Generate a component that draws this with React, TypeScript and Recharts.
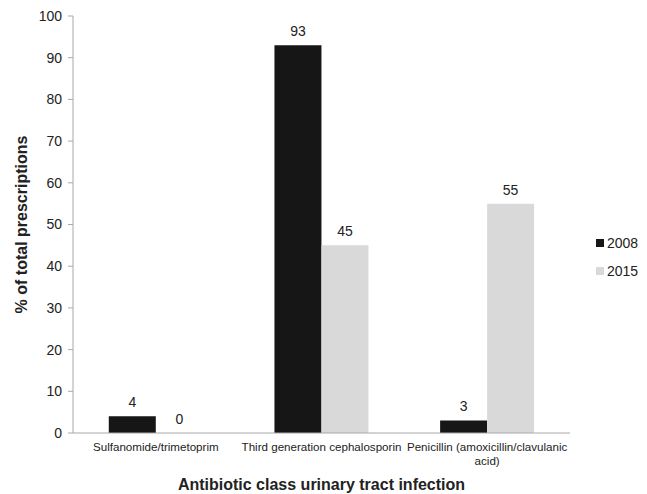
import React from 'react';
import { BarChart, Bar, XAxis, YAxis, LabelList, Label } from 'recharts';

const categories = [
  'Sulfanomide/trimetoprim',
  'Third generation cephalosporin',
  'Penicillin (amoxicillin/clavulanic acid)',
];
const tickLines = [
  ['Sulfanomide/trimetoprim'],
  ['Third generation cephalosporin'],
  ['Penicillin (amoxicillin/clavulanic', 'acid)'],
];
const values2008 = [4, 93, 3];
const values2015 = [0, 45, 55];
const yTicks = [0, 10, 20, 30, 40, 50, 60, 70, 80, 90, 100];
const boundaryTicks = [0, 1, 2, 3];

const data = categories.map((name, i) => ({
  name,
  y2008: values2008[i],
  y2015: values2015[i],
}));

const FONT = '"Liberation Sans", Arial, sans-serif';
const TEXT = '#222';
const AXIS = '#a8a8a8';
const BLACK = '#161616';
const GREY = '#d9d9d9';

const legendItems = [
  { label: '2008', color: BLACK },
  { label: '2015', color: GREY },
];

function CategoryTick({ x, y, index, payload }: any) {
  const lines = tickLines[index] ?? [payload?.value];
  return (
    <text x={x} y={y + 17} textAnchor="middle" fontSize={11.6} fill={TEXT} fontFamily={FONT}>
      {lines.map((l: string, i: number) => (
        <tspan key={i} x={x} dy={i === 0 ? 0 : 13.5}>
          {l}
        </tspan>
      ))}
    </text>
  );
}

function ValueLabel({ x, y, width, value }: any) {
  return (
    <text x={x + width / 2} y={y - 9} textAnchor="middle" fontSize={14} fill={TEXT} fontFamily={FONT}>
      {value}
    </text>
  );
}

function XTitle({ viewBox }: any) {
  const { x, y, width } = viewBox;
  return (
    <text x={x + width / 2} y={y + 56} textAnchor="middle" fontSize={16} fontWeight="bold" fill={TEXT} fontFamily={FONT}>
      Antibiotic class urinary tract infection
    </text>
  );
}

function YTitle({ viewBox }: any) {
  const { x, y, height } = viewBox;
  const cx = x + 27;
  const cy = y + height / 2;
  return (
    <text
      x={cx}
      y={cy}
      transform={`rotate(-90, ${cx}, ${cy})`}
      textAnchor="middle"
      fontSize={16}
      fontWeight="bold"
      fill={TEXT}
      fontFamily={FONT}
    >
      % of total prescriptions
    </text>
  );
}

export default function App() {
  return (
    <div style={{ position: 'absolute', left: 0, top: 0, width: 647, height: 494, background: '#fff', fontFamily: FONT }}>
      <BarChart
        width={647}
        height={494}
        data={data}
        margin={{ top: 16, right: 77, bottom: 0, left: 0 }}
        barCategoryGap="21.6%"
        barGap={0}
      >
        <XAxis
          xAxisId="bounds"
          type="number"
          domain={[0, 3]}
          ticks={boundaryTicks}
          allowDataOverflow
          height={1}
          tick={false}
          tickSize={5}
          axisLine={{ stroke: AXIS }}
          tickLine={{ stroke: AXIS }}
        />
        <XAxis
          xAxisId="cat"
          dataKey="name"
          height={60}
          axisLine={false}
          tickLine={false}
          tickSize={0}
          tickMargin={0}
          tick={<CategoryTick />}
          interval={0}
        >
          <Label content={<XTitle />} />
        </XAxis>
        <YAxis
          domain={[0, 100]}
          ticks={yTicks}
          width={73}
          tickSize={5}
          tickMargin={6}
          axisLine={{ stroke: AXIS }}
          tickLine={{ stroke: AXIS }}
          tick={{ fill: TEXT, fontSize: 14, fontFamily: FONT }}
        >
          <Label content={<YTitle />} />
        </YAxis>
        <Bar xAxisId="cat" dataKey="y2008" name="2008" fill={BLACK} isAnimationActive={false}>
          <LabelList dataKey="y2008" content={<ValueLabel />} />
        </Bar>
        <Bar xAxisId="cat" dataKey="y2015" name="2015" fill={GREY} minPointSize={0.1} isAnimationActive={false}>
          <LabelList dataKey="y2015" content={<ValueLabel />} />
        </Bar>
      </BarChart>
      <div style={{ position: 'absolute', left: 596, top: 229, fontSize: 14, color: TEXT }}>
        {legendItems.map((it) => (
          <div key={it.label} style={{ display: 'flex', alignItems: 'center', height: 28 }}>
            <span style={{ width: 8, height: 8, background: it.color, marginRight: 3 }} />
            <span>{it.label}</span>
          </div>
        ))}
      </div>
    </div>
  );
}
